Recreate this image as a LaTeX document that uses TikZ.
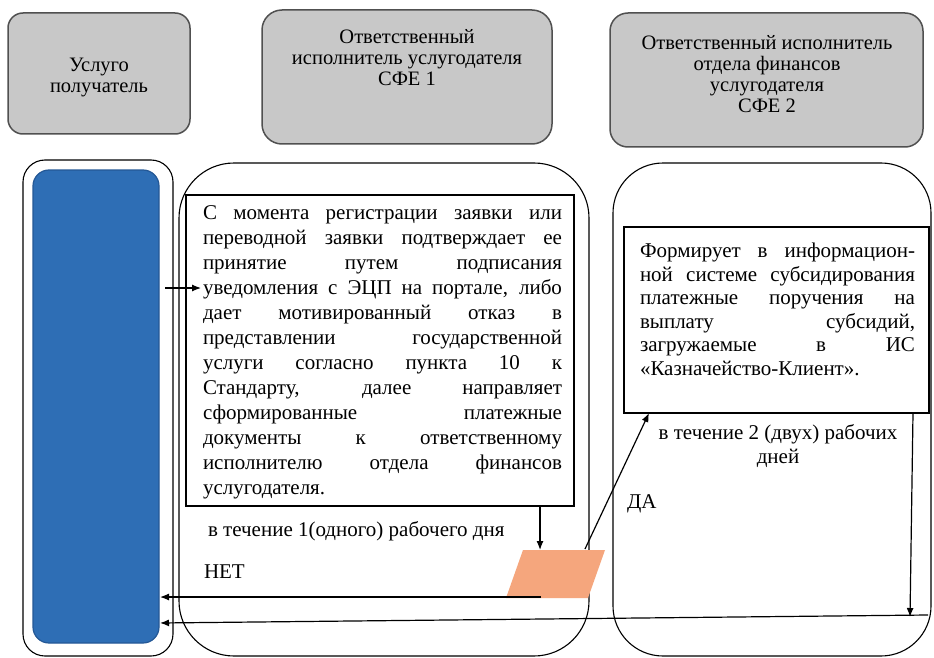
\documentclass[tikz,border=0pt]{standalone}
\usepackage{fontspec}
\setmainfont{Liberation Serif}
\usetikzlibrary{arrows.meta}
\definecolor{hdrgray}{RGB}{200,200,200}
\definecolor{hdrline}{RGB}{80,80,80}
\definecolor{barblue}{RGB}{46,110,181}
\definecolor{barline}{RGB}{36,88,150}
\definecolor{decfill}{RGB}{245,166,125}
\newcommand{\jmain}[1]{\makebox[359pt][s]{#1}}
\newcommand{\jside}[1]{\makebox[275pt][s]{#1}}
\begin{document}
\begin{tikzpicture}[x=1pt,y=-1pt,
  hdr/.style={draw=hdrline, line width=1.5pt, fill=hdrgray, anchor=north west, inner sep=0pt, outer sep=0pt},
  lane/.style={draw=black, line width=1.1pt, anchor=north west, inner sep=0pt, outer sep=0pt},
  procbox/.style={draw=black, line width=1.6pt, anchor=north west, inner sep=0pt, outer sep=0pt},
  conn/.style={line width=1.2pt, -{Latex[length=9pt,width=7pt]}},
  txt/.style={inner sep=0pt, outer sep=0pt},
  hdrfont/.style={font=\fontsize{20.5}{21}\selectfont},
  mainfont/.style={font=\fontsize{21}{25}\selectfont},
  sidefont/.style={font=\fontsize{21}{23.5}\selectfont}
]
\useasboundingbox (0,0) rectangle (934,658);
\fill[white] (0,0) rectangle (934,658);

% lanes
\node[lane, rounded corners=22pt, minimum width=150pt, minimum height=496pt] (lane1) at (23,160) {};
\node[lane, rounded corners=55pt, minimum width=410pt, minimum height=493pt] (lane2) at (179,163) {};
\node[lane, rounded corners=50pt, minimum width=318pt, minimum height=493pt] (lane3) at (613,163) {};

% headers
\node[hdr, rounded corners=15pt, minimum width=182pt, minimum height=121pt] (h1) at (8,13) {};
\node[txt, hdrfont, align=center] (h1t) at (99,78) {Услуго\\получатель};
\node[hdr, rounded corners=20pt, minimum width=290pt, minimum height=134pt] (h2) at (262,10) {};
\node[txt, hdrfont, align=center] (h2t) at (407,58) {Ответственный\\исполнитель услугодателя\\СФЕ 1};
\node[hdr, rounded corners=18pt, minimum width=313pt, minimum height=134pt] (h3) at (610,13) {};
\node[txt, hdrfont, align=center] (h3t) at (767,74) {Ответственный исполнитель\\отдела финансов\\услугодателя\\СФЕ 2};

% blue bar
\node[draw=barline, line width=1.2pt, fill=barblue, rounded corners=16pt, anchor=north west, inner sep=0pt, outer sep=0pt, minimum width=126pt, minimum height=473pt] (bar) at (33,170) {};

% process box 2
\node[procbox, minimum width=388pt, minimum height=311pt] (box2) at (186,195) {};
\node[txt, mainfont, align=left] (box2t) at (382.5,352.5) {%
\jmain{С момента регистрации заявки или}\\
\jmain{переводной заявки подтверждает ее}\\
\jmain{принятие путем подписания}\\
\jmain{уведомления с ЭЦП на портале, либо}\\
\jmain{дает мотивированный отказ в}\\
\jmain{представлении государственной}\\
\jmain{услуги согласно пункта 10 к}\\
\jmain{Стандарту, далее направляет}\\
\jmain{сформированные платежные}\\
\jmain{документы к ответственному}\\
\jmain{исполнителю отдела финансов}\\
услугодателя.};

% process box 3
\node[procbox, minimum width=305pt, minimum height=186pt] (box3) at (624,227) {};
\node[txt, sidefont, align=left] (box3t) at (777.5,309.5) {%
\jside{Формирует в информацион-}\\
\jside{ной системе субсидирования}\\
\jside{платежные поручения на}\\
\jside{выплату субсидий,}\\
\jside{загружаемые в ИС}\\
«Казначейство-Клиент».};

% labels
\node[txt, mainfont, anchor=west] (lab1) at (208,531) {в течение 1(одного) рабочего дня};
\node[txt, mainfont, anchor=west] (labno) at (204,572) {НЕТ};
\node[txt, mainfont, anchor=west] (labyes) at (627,504) {ДА};
\node[txt, font=\fontsize{21}{24}\selectfont, align=center] (lab2) at (778,446.5) {в течение 2 (двух) рабочих\\дней};

% decision parallelogram
\coordinate (p1) at (523,550);
\coordinate (p2) at (605,550);
\coordinate (p3) at (588,598);
\coordinate (p4) at (506,598);
\fill[decfill] (p1) -- (p2) -- (p3) -- (p4) -- cycle;

% connectors
\coordinate (a1s) at (165,288);
\coordinate (a1e) at (201,288);
\draw[conn] (a1s) -- (a1e);

\coordinate (dtop) at (540,550);
\draw[conn] (dtop |- box2.south) -- (dtop);

\coordinate (pyes) at (585,549);
\coordinate (b3in) at (649,413);
\draw[conn] (pyes) -- (b3in);

\coordinate (pno) at (541,597);
\coordinate (blueno) at (160,597);
\draw[conn] (pno) -- (blueno);

\coordinate (b3out) at (913,413);
\coordinate (vend) at (910,617);
\draw[conn] (b3out) -- (vend);

\coordinate (hstart) at (928,615);
\coordinate (blueret) at (160,623);
\draw[conn] (hstart) -- (blueret);
\end{tikzpicture}
\end{document}
